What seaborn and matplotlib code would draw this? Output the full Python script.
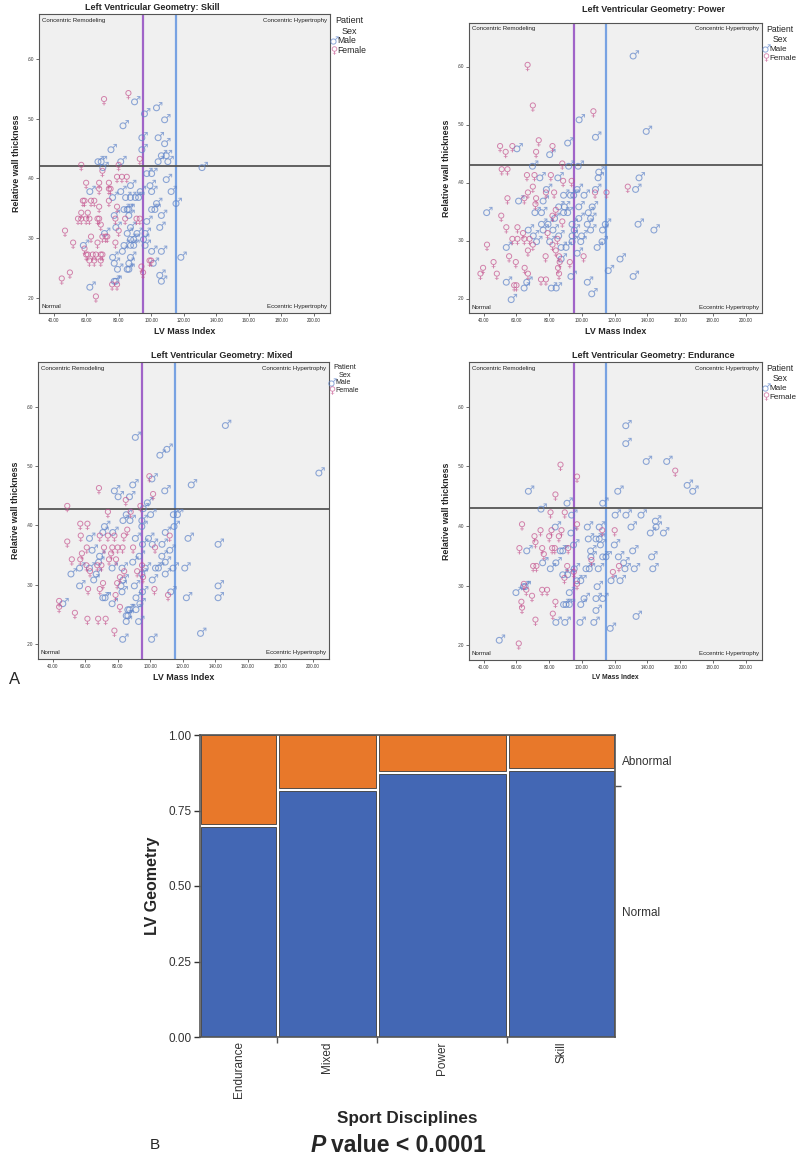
import numpy as np
import pandas as pd
import matplotlib
matplotlib.use("Agg")
import matplotlib.pyplot as plt
from matplotlib.ticker import FuncFormatter
import seaborn as sns

# ---- panel A: LV mass index vs relative wall thickness, (lvmi, rwt) ----
skill_male = [(90.5, .53), (104, .52), (96.6, .51), (109, .50), (83.4, .49), (95, .47), (105, .47), (109, .46),
              (76, .45), (95, .45), (107, .44), (110, .44), (68, .43), (70, .43), (82, .43), (105, .43), (111, .43),
              (71, .42), (132, .42), (98, .41), (101, .41), (110, .40), (88, .39), (100, .39), (63, .38), (82, .38),
              (94, .38), (101, .38), (113, .38), (77, .37), (85, .37), (88, .37), (91, .37), (93, .37), (104, .36),
              (116, .36), (84, .35), (86, .35), (87, .35), (101, .35), (103, .35), (78, .34), (87, .34), (107, .34),
              (98, .33), (79, .32), (88, .32), (106, .32), (72, .31), (86, .31), (92, .31), (97, .31), (88, .30),
              (90, .30), (96, .30), (59, .29), (84, .29), (88, .29), (90, .29), (97, .29), (83, .28), (101, .28),
              (107, .28), (77, .27), (88, .27), (119, .27), (78, .26), (87, .26), (102, .26), (80, .25), (86, .25),
              (87, .25), (106, .24), (78, .23), (79, .23), (107, .23), (63, .22)]
skill_female = [(71, .53), (86, .54), (93, .43), (57, .42), (80, .42), (70, .41), (79, .40), (82, .40), (85, .40),
                (60, .39), (68, .39), (74, .39), (68, .38), (74, .38), (75, .38), (58, .36), (59, .36), (63, .36),
                (65, .36), (74, .36), (68, .35), (79, .35), (57, .34), (61, .34), (55, .33), (57, .33), (60, .33),
                (62, .33), (67, .33), (68, .33), (78, .33), (84, .33), (91, .33), (93, .33), (69, .32), (80, .31),
                (47, .31), (63, .30), (70, .30), (72, .30), (73, .30), (52, .29), (67, .29), (78, .29), (59, .28),
                (60, .27), (61, .27), (64, .27), (66, .27), (69, .27), (70, .27), (62, .26), (65, .26), (69, .26),
                (99, .26), (100, .26), (94, .25), (95, .24), (50, .24), (45, .23), (76, .22), (79, .22), (66, .20)]

power_male = [(132, .62), (99, .51), (140, .49), (109, .48), (92, .47), (61, .46), (81, .45), (70.5, .43),
              (92.6, .43), (98.4, .43), (111, .42), (75, .41), (86, .41), (110.6, .41), (135.6, .41), (79, .39),
              (97.8, .39), (109, .39), (133.5, .39), (89.5, .38), (93.7, .38), (95.7, .38), (102, .38), (62, .37),
              (77, .37), (86.5, .36), (90, .36), (98.8, .36), (107, .36), (42.5, .35), (72, .35), (76, .35),
              (89.5, .35), (92, .35), (104.6, .35), (84, .34), (98.8, .34), (106, .34), (76, .33), (80, .33),
              (94.7, .33), (104, .33), (115, .33), (135, .33), (67.9, .32), (77, .32), (83, .32), (96, .32),
              (106, .32), (113.3, .32), (144.7, .32), (71, .31), (86.5, .31), (94.7, .31), (100.5, .31), (73, .30),
              (81, .30), (94.7, .30), (100, .30), (113, .30), (54.5, .29), (88, .29), (91, .29), (110, .29),
              (97.8, .28), (88, .27), (124, .27), (116.8, .25), (94, .24), (132, .24), (54.5, .23), (67, .23),
              (104, .23), (65.4, .22), (82, .22), (85, .22), (106.7, .21), (57.5, .20)]
power_female = [(66.8, .60), (70, .53), (107, .52), (73.6, .47), (50, .46), (57.5, .46), (82, .46), (53.4, .45),
                (72, .45), (88, .43), (51, .42), (54.5, .42), (66.4, .41), (71, .41), (81, .41), (88.5, .40),
                (93.7, .40), (70, .39), (128, .39), (67, .38), (78, .38), (83, .38), (108, .38), (115, .38),
                (54.5, .37), (64.8, .37), (72, .37), (71.6, .36), (84, .35), (50.7, .34), (82, .34), (88, .33),
                (53.8, .32), (60.6, .32), (64, .31), (79, .31), (57.5, .30), (60.6, .30), (64.8, .30), (68, .30),
                (85, .30), (42, .29), (70, .29), (82, .29), (67, .28), (84, .28), (55.5, .27), (77.8, .27),
                (86, .27), (101, .27), (46, .26), (59.6, .26), (86.4, .26), (92.6, .26), (39.6, .25), (65, .25),
                (85.4, .25), (38, .24), (48, .24), (67, .24), (86, .24), (75, .23), (78, .23), (58.6, .22), (60, .22)]

mixed_male = [(147, .57), (91.6, .55), (111, .53), (106.7, .52), (204.5, .49), (101.8, .48), (90, .47), (126, .47),
              (78.7, .46), (109.7, .46), (81, .45), (88, .45), (99, .44), (96.5, .43), (86, .42), (101, .42),
              (115, .42), (117.5, .42), (84, .41), (88.3, .41), (95.6, .41), (72.6, .40), (95.6, .40), (115.4, .40),
              (71.6, .39), (77.7, .39), (110, .39), (63.4, .38), (91.6, .38), (99.7, .38), (124, .38), (96, .37),
              (102, .37), (108, .37), (142.5, .37), (65, .36), (112.8, .36), (69.6, .35), (94, .35), (107.9, .35),
              (69, .34), (90, .34), (110, .34), (57.3, .33), (63.4, .33), (77.3, .33), (83.4, .33), (97.7, .33),
              (104, .33), (105.8, .33), (114.8, .33), (122, .33), (52, .32), (67.5, .32), (95.6, .32), (110, .32),
              (66, .31), (84, .31), (102, .31), (57.3, .30), (82.8, .30), (91, .30), (142.5, .30), (83.4, .29),
              (96, .29), (113.4, .29), (71.6, .28), (73, .28), (92, .28), (123, .28), (142.5, .28), (47, .27),
              (77.3, .27), (94.4, .27), (87, .26), (88, .26), (92, .26), (86, .25), (87, .25), (86, .24),
              (93.6, .24), (131.7, .22), (83.8, .21), (101.6, .21)]
mixed_female = [(99.5, .48), (68.5, .46), (101.8, .45), (85, .44), (49, .43), (94, .43), (74, .42), (88, .42),
                (57, .40), (61.4, .40), (85.9, .39), (57.3, .38), (69, .38), (74, .38), (78, .38), (83.8, .38),
                (112, .38), (49, .37), (61, .36), (71.6, .36), (76.7, .36), (80, .36), (83, .36), (89.5, .36),
                (103, .36), (58, .35), (76, .35), (51.8, .34), (57, .34), (74.7, .34), (79, .34), (60.8, .33),
                (67.5, .33), (70, .33), (95, .33), (63, .32), (84, .32), (92, .32), (81.4, .31), (95.6, .31),
                (71, .30), (79.7, .30), (61.8, .29), (69, .29), (102.6, .29), (78.7, .28), (111, .28), (44, .27),
                (44, .26), (81.4, .26), (53.7, .25), (61.4, .24), (68, .24), (72.6, .24), (78, .22)]

endurance_male = [(127.5, .57), (127.5, .54), (140, .51), (152.5, .51), (165, .47), (168.4, .46), (68, .46),
                  (122.6, .46), (91.6, .44), (113.4, .44), (75.7, .43), (94.4, .42), (121, .42), (127.6, .42),
                  (136.8, .42), (145.6, .41), (84.4, .40), (104, .40), (111.3, .40), (130.7, .40), (146, .40),
                  (94, .39), (142.5, .39), (150.5, .39), (104.6, .38), (109.3, .38), (111.3, .38), (95.6, .37),
                  (112, .37), (120.5, .37), (67, .36), (87.5, .36), (89, .36), (106, .36), (131.7, .36),
                  (106.2, .35), (113.4, .35), (115.4, .35), (123, .35), (143.3, .35), (76.7, .34), (84.8, .34),
                  (126.2, .34), (81.4, .33), (96, .33), (103.2, .33), (105.2, .33), (110.7, .33), (127, .33),
                  (132.7, .33), (144, .33), (89, .32), (92, .32), (97.5, .31), (100, .31), (118.5, .31), (124, .31),
                  (65, .30), (66, .30), (110, .30), (60.4, .29), (93, .29), (102, .28), (109.3, .28), (113.4, .28),
                  (89.5, .27), (91, .27), (93, .27), (100, .27), (109.3, .26), (133.8, .25), (84.8, .24),
                  (90.3, .24), (99.5, .24), (108, .24), (118, .23), (50.2, .21)]
endurance_female = [(86.9, .50), (157, .49), (97, .48), (83.8, .45), (80.8, .42), (89.5, .42), (63.4, .40),
                    (97, .40), (74.7, .39), (81.4, .39), (87.5, .39), (112.4, .39), (120, .39), (71, .38), (80, .38),
                    (85.9, .38), (71.6, .37), (61.8, .36), (75.7, .36), (81.8, .36), (83.4, .36), (91.6, .36),
                    (76.7, .35), (105.8, .34), (70.2, .33), (72.2, .33), (91, .33), (122.6, .33), (95, .32),
                    (118.9, .32), (89.3, .31), (64.5, .30), (97, .30), (66, .29), (75.7, .29), (78.7, .29),
                    (69.5, .28), (63, .27), (83.8, .27), (63.4, .26), (82.2, .25), (71.6, .24), (61.4, .20)]

# cut-offs drawn on each panel
lvmi_female_cut = 95
lvmi_male_cut = 115
rwt_cut = {"Skill": 0.42, "Power": 0.43, "Mixed": 0.428, "Endurance": 0.43}

# ---- panel B: mosaic of LV geometry by discipline ----
disciplines = ["Endurance", "Mixed", "Power", "Skill"]
discipline_share = [0.186, 0.241, 0.313, 0.260]
normal_share = [0.70, 0.82, 0.877, 0.885]

sns.set_theme(style="ticks")
plt.rcParams["font.family"] = ["Liberation Sans", "DejaVu Sans"]
plt.rcParams["mathtext.fontset"] = "dejavusans"

MALE_C = "#5f84c9"
FEMALE_C = "#c4508c"
sex_markers = {"Male": "$\u2642$", "Female": "$\u2640$"}

fig = plt.figure(figsize=(8, 11.6), dpi=100)


def px_axes(x0, y0, x1, y1):
    return fig.add_axes([x0 / 800, 1 - y1 / 1160, (x1 - x0) / 800, (y1 - y0) / 1160])


def lv_panel(box, male, female, name, title_xy, leg_size, xlab_size):
    ax = px_axes(*box)
    df = pd.concat([pd.DataFrame(male, columns=["lvmi", "rwt"]).assign(sex="Male"),
                    pd.DataFrame(female, columns=["lvmi", "rwt"]).assign(sex="Female")])
    ax.set_facecolor("#f0f0f0")
    ax.axvline(lvmi_female_cut, color="#a064c8", lw=1.6, zorder=1)
    ax.axvline(lvmi_male_cut, color="#78a2e2", lw=1.6, zorder=1)
    ax.axhline(rwt_cut[name], color="#555555", lw=1.3, zorder=1)
    sns.scatterplot(data=df, x="lvmi", y="rwt", hue="sex", style="sex",
                    hue_order=["Male", "Female"], style_order=["Male", "Female"],
                    palette={"Male": MALE_C, "Female": FEMALE_C}, markers=sex_markers,
                    s=46, linewidth=0, alpha=0.7, ax=ax, zorder=3)
    ax.set_xlim(31, 210)
    ax.set_ylim(0.175, 0.675)
    ax.set_xticks(range(40, 201, 20))
    ax.set_yticks([0.2, 0.3, 0.4, 0.5, 0.6])
    ax.xaxis.set_major_formatter(FuncFormatter(lambda v, p: f"{v:.2f}"))
    ax.yaxis.set_major_formatter(FuncFormatter(lambda v, p: f"{v:.2f}".lstrip("0")))
    ax.tick_params(labelsize=3.3, length=2, width=0.5, colors="#333333", pad=1.5)
    for sp in ax.spines.values():
        sp.set_color("#555555")
        sp.set_linewidth(0.8)
    ax.set_xlabel("LV Mass Index", fontsize=xlab_size, fontweight="bold", labelpad=3)
    ax.set_ylabel("Relative wall thickness", fontsize=6.4, fontweight="bold", labelpad=5)
    q = dict(fontsize=4.4, color="#222222", transform=ax.transAxes)
    ax.text(0.01, 0.988, "Concentric Remodeling", ha="left", va="top", **q)
    ax.text(0.99, 0.988, "Concentric Hypertrophy", ha="right", va="top", **q)
    ax.text(0.01, 0.012, "Normal", ha="left", va="bottom", **q)
    ax.text(0.99, 0.012, "Eccentric Hypertrophy", ha="right", va="bottom", **q)
    sns.move_legend(ax, "upper left", bbox_to_anchor=(1.0, 1.0), title="Patient\nSex",
                    frameon=False, fontsize=leg_size, title_fontsize=leg_size + 0.3,
                    handlelength=0.4, handletextpad=0.25, borderaxespad=0.05, borderpad=0.2,
                    labelspacing=0.1, markerscale=0.9, alignment="center")
    ax.get_legend().get_title().set_multialignment("center")
    fig.text(title_xy[0] / 800, 1 - title_xy[1] / 1160, f"Left Ventricular Geometry: {name}",
             ha="center", va="center", fontsize=6.5, fontweight="bold")
    return ax


lv_panel((39, 14, 330, 313), skill_male, skill_female, "Skill", (152, 8), 6.2, 6.4)
lv_panel((469, 23, 762, 313), power_male, power_female, "Power", (654, 10), 5.9, 6.4)
lv_panel((38, 362, 329, 659), mixed_male, mixed_female, "Mixed", (222, 355), 5.0, 6.4)
lv_panel((469, 362, 762, 660), endurance_male, endurance_female, "Endurance", (653, 355), 5.9, 4.9)

fig.text(15 / 800, 1 - 679 / 1160, "A", ha="center", va="center", fontsize=12)

# ---- mosaic ----
axb = px_axes(200, 735, 615, 1037)
axb.set_facecolor("white")
shares = np.array(discipline_share)
normal = np.array(normal_share)
lefts = np.concatenate([[0], np.cumsum(shares)[:-1]])
centers = lefts + shares / 2
gx, gy = 0.007, 0.005
axb.bar(lefts + gx / 2, normal - gy, width=shares - gx, align="edge",
        color="#4367b4", edgecolor="#3b3b3b", linewidth=0.6)
axb.bar(lefts + gx / 2, 1 - normal - gy, bottom=normal + gy, width=shares - gx, align="edge",
        color="#e8782a", edgecolor="#3b3b3b", linewidth=0.6, clip_on=False)
axb.set_xlim(0, 1)
axb.set_ylim(0, 1)
axb.set_yticks([0, 0.25, 0.5, 0.75, 1.0])
axb.yaxis.set_major_formatter(FuncFormatter(lambda v, p: f"{v:.2f}"))
axb.set_xticks(centers)
axb.set_xticklabels(disciplines, rotation=90)
axb.set_xticks(np.cumsum(shares)[:-1], minor=True)
axb.tick_params(axis="x", which="major", length=0, labelsize=8.5, pad=3, colors="#333333")
axb.tick_params(axis="x", which="minor", length=4, width=1, color="#555555")
axb.tick_params(axis="y", length=4, width=1, labelsize=8.5, colors="#333333", pad=2)
for sp in axb.spines.values():
    sp.set_color("#555555")
    sp.set_linewidth(1.2)
axb.set_ylabel("LV Geometry", fontsize=11.5, fontweight="bold", labelpad=6)

overall_normal = float(np.sum(shares * normal))
axr = axb.twinx()
axr.set_ylim(0, 1)
axr.set_yticks([overall_normal / 2, (1 + overall_normal) / 2])
axr.set_yticklabels(["Normal", "Abnormal"])
axr.set_yticks([overall_normal], minor=True)
axr.tick_params(axis="y", which="major", length=0, labelsize=8.5, pad=5, colors="#333333")
axr.tick_params(axis="y", which="minor", length=4, width=1, color="#555555")
for sp in axr.spines.values():
    sp.set_visible(False)

fig.text(407 / 800, 1 - 1118 / 1160, "Sport Disciplines", ha="center", va="center",
         fontsize=12.3, fontweight="bold")
fig.text(311 / 800, 1 - 1145 / 1160, "P", ha="left", va="center", fontsize=16.5,
         fontweight="bold", fontstyle="italic")
fig.text(331 / 800, 1 - 1145 / 1160, "value < 0.0001", ha="left", va="center", fontsize=16.5,
         fontweight="bold")
fig.text(155 / 800, 1 - 1145 / 1160, "B", ha="center", va="center", fontsize=11)

fig.savefig("out.png", dpi=100)
